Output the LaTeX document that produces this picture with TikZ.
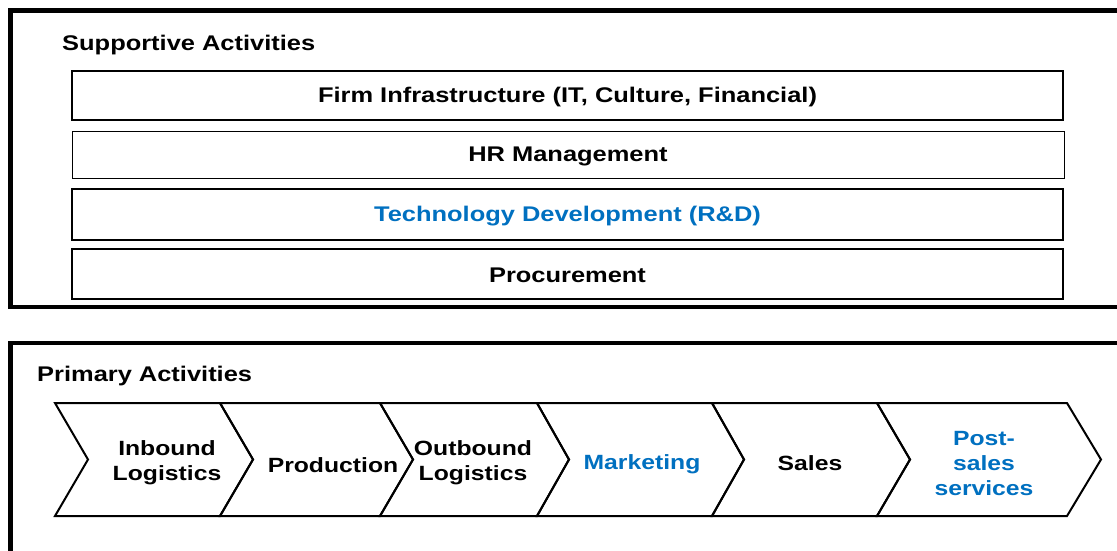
\documentclass[tikz,border=0pt]{standalone}
\usepackage{fontspec}
\setmainfont{Liberation Sans}[FakeStretch=1.2]
\definecolor{accent}{HTML}{0070C0}
\begin{document}
\begin{tikzpicture}[x=1pt,y=-1pt,
  outerbox/.style={draw=black,line width=4.5pt},
  bar/.style={draw=black,line width=2.4pt},
  thinbar/.style={draw=black,line width=1pt},
  chev/.style={draw=black,line width=2pt,line join=miter},
  lbl/.style={font=\bfseries\fontsize{20.6}{25}\selectfont,align=center,inner sep=0pt},
  barlbl/.style={font=\bfseries\fontsize{21.2}{25}\selectfont,align=center,inner sep=0pt},
  title/.style={font=\bfseries\fontsize{21.2}{25}\selectfont,anchor=west,inner sep=0pt}]
\useasboundingbox (0,0) rectangle (1117,550);
\clip (0,0) rectangle (1117,550);
\fill[white] (0,0) rectangle (1117,550);
% outer boxes
\draw[outerbox] (10.5,10.5) rectangle (1140,307);
\draw[outerbox] (10.5,343) rectangle (1140,580);
\node[title] (sup) at (62,45) {Supportive Activities};
\node[title] (pri) at (37,376) {Primary Activities};
% support bars
\node[bar,minimum width=991pt,minimum height=49pt,inner sep=0pt] (firm) at (567.5,95.5) {};
\node[barlbl] (firmt) at ([yshift=-1.5pt]firm.center) {Firm Infrastructure (IT, Culture, Financial)};
\node[thinbar,minimum width=992pt,minimum height=47pt,inner sep=0pt] (hr) at (568,154.5) {};
\node[barlbl] (hrt) at ([yshift=-1.5pt]hr.center) {HR Management};
\node[bar,minimum width=991pt,minimum height=51pt,inner sep=0pt] (tech) at (567.5,214.5) {};
\node[barlbl,text=accent] (techt) at ([yshift=-1.5pt]tech.center) {Technology Development (R\&D)};
\node[bar,minimum width=991pt,minimum height=50pt,inner sep=0pt] (proc) at (567.5,274) {};
\node[barlbl] (proct) at ([yshift=-1pt]proc.center) {Procurement};
% chevrons
\def\ty{403}\def\by{516}\def\my{459.5}
\foreach \a/\b/\c/\d in {55/88/220/253, 220/253/380/413, 380/413/537/569, 537/569/712/744, 712/744/877/910, 877/910/1067/1101}{
  \draw[chev] (\a,\ty) -- (\c,\ty) -- (\d,\my) -- (\c,\by) -- (\a,\by) -- (\b,\my) -- cycle;
}
\node[lbl] (c1) at (167,462.5) {Inbound\\Logistics};
\node[lbl] (c2) at (333,465) {Production};
\node[lbl] (c3) at (473,462.5) {Outbound\\Logistics};
\node[lbl,text=accent] (c4) at (642,464) {Marketing};
\node[lbl] (c5) at (810,463) {Sales};
\node[lbl,text=accent] (c6) at (984,463.5) {Post-\\sales\\services};
\end{tikzpicture}
\end{document}
